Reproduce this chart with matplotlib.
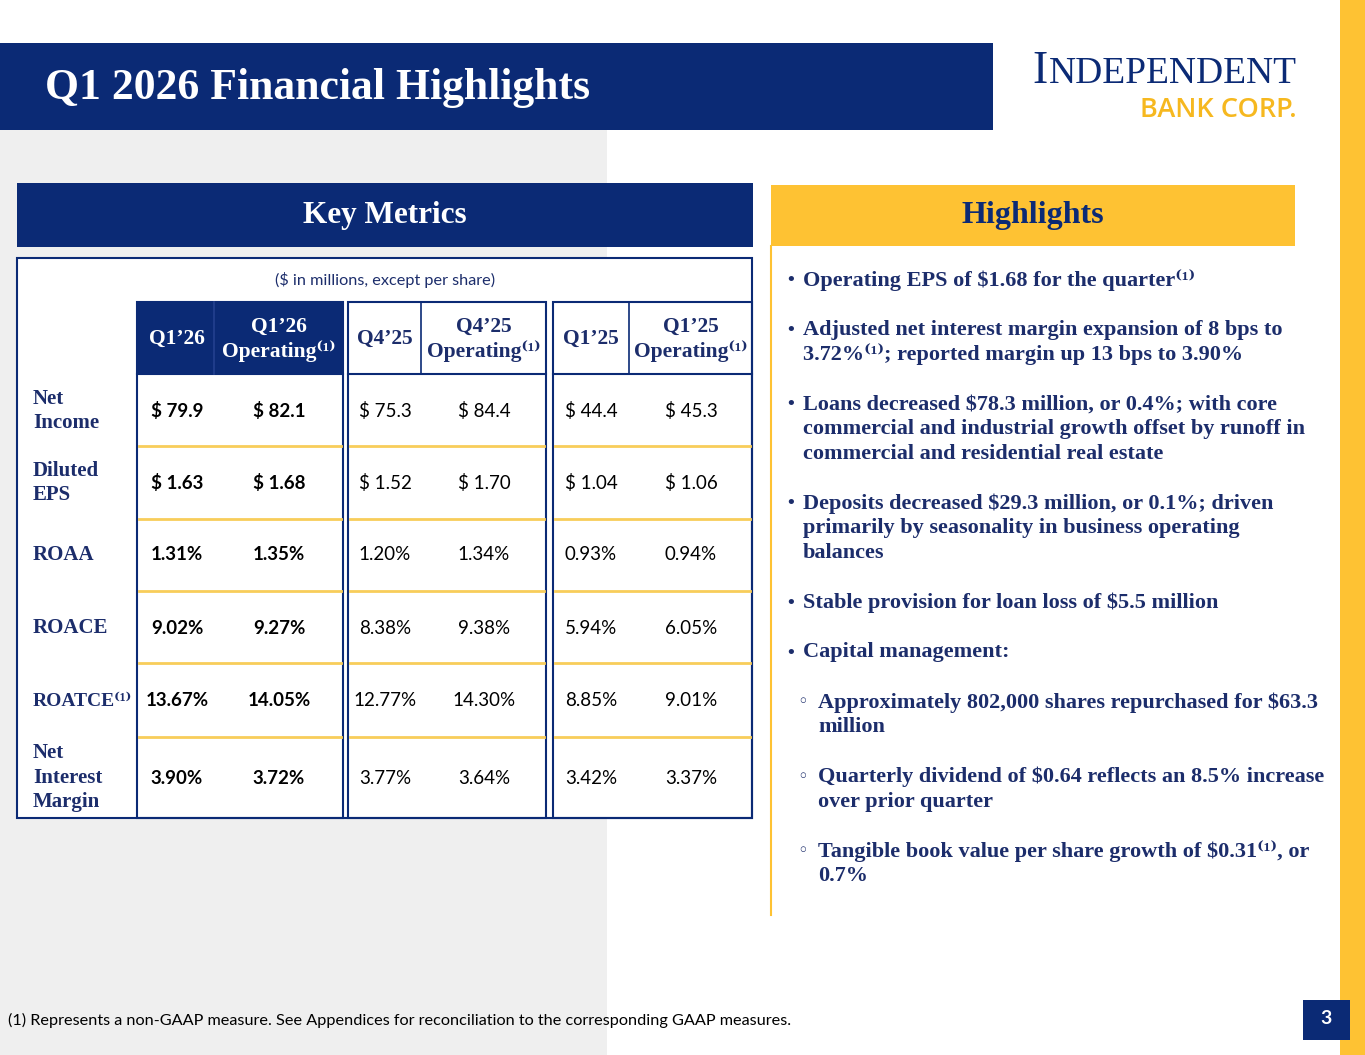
import matplotlib
matplotlib.use("Agg")
import matplotlib.pyplot as plt
from matplotlib.patches import Rectangle

# Data
title = "Q1 2026 Financial Highlights"
units_note = "($ in millions, except per share)"
col_labels = ["Q1’26", "Q1’26\nOperating⁽¹⁾", "Q4’25", "Q4’25\nOperating⁽¹⁾", "Q1’25", "Q1’25\nOperating⁽¹⁾"]
row_labels = ["Net\nIncome", "Diluted\nEPS", "ROAA", "ROACE", "ROATCE⁽¹⁾", "Net\nInterest\nMargin"]
net_income = ["$ 79.9", "$ 82.1", "$ 75.3", "$ 84.4", "$ 44.4", "$ 45.3"]
diluted_eps = ["$ 1.63", "$ 1.68", "$ 1.52", "$ 1.70", "$ 1.04", "$ 1.06"]
roaa = ["1.31%", "1.35%", "1.20%", "1.34%", "0.93%", "0.94%"]
roace = ["9.02%", "9.27%", "8.38%", "9.38%", "5.94%", "6.05%"]
roatce = ["13.67%", "14.05%", "12.77%", "14.30%", "8.85%", "9.01%"]
nim = ["3.90%", "3.72%", "3.77%", "3.64%", "3.42%", "3.37%"]
table_rows = [net_income, diluted_eps, roaa, roace, roatce, nim]

bullets = [
    (0, "Operating EPS of $1.68 for the quarter⁽¹⁾"),
    (0, "Adjusted net interest margin expansion of 8 bps to\n3.72%⁽¹⁾; reported margin up 13 bps to 3.90%"),
    (0, "Loans decreased $78.3 million, or 0.4%; with core\ncommercial and industrial growth offset by runoff in\ncommercial and residential real estate"),
    (0, "Deposits decreased $29.3 million, or 0.1%; driven\nprimarily by seasonality in business operating\nbalances"),
    (0, "Stable provision for loan loss of $5.5 million"),
    (0, "Capital management:"),
    (1, "Approximately 802,000 shares repurchased for $63.3\nmillion"),
    (1, "Quarterly dividend of $0.64 reflects an 8.5% increase\nover prior quarter"),
    (1, "Tangible book value per share growth of $0.31⁽¹⁾, or\n0.7%"),
]
footnote = "(1) Represents a non-GAAP measure. See Appendices for reconciliation to the corresponding GAAP measures."
page_no = "3"

NAVY = "#0b2a75"
TEXT_NAVY = "#1c2d6b"
GOLD = "#fec233"
LINE_GOLD = "#f8cd5a"
GRAY = "#efefef"
SERIF = ["Liberation Serif", "DejaVu Serif"]
SANS = ["Lato", "DejaVu Sans"]

fig = plt.figure(figsize=(13.65, 10.55), dpi=100)
ax = fig.add_axes([0, 0, 1, 1])
ax.set_xlim(0, 1365)
ax.set_ylim(1055, 0)
ax.axis("off")


def rect(x0, y0, x1, y1, **kw):
    ax.add_patch(Rectangle((x0, y0), x1 - x0, y1 - y0, **kw))


def lines(x, y, txt, step, **kw):
    # draw a multi-line label one line at a time, centred on y
    parts = txt.split("\n")
    y0 = y - step * (len(parts) - 1) / 2
    for i, p in enumerate(parts):
        ax.text(x, y0 + i * step, p, va="center", **kw)


# background panels
rect(0, 130, 607, 1055, color=GRAY, lw=0)
rect(1340, 0, 1365, 1055, color=GOLD, lw=0)

# title bar
rect(0, 43, 993, 130, color=NAVY, lw=0)
ax.text(45, 88, title, color="white", fontsize=31.5, fontweight="bold",
        family=SERIF, va="center", ha="left")

# logo
ax.text(1297, 83, "NDEPENDENT", color=NAVY, fontsize=27, family=SERIF,
        va="baseline", ha="right")
ax.text(1048, 83, "I", color=NAVY, fontsize=33, family=SERIF,
        va="baseline", ha="right")
ax.text(1297, 117, "BANK CORP.", color="#f6b81f", fontsize=19.5,
        family=["Open Sans", "DejaVu Sans"], fontweight="semibold",
        va="baseline", ha="right")

# section headers
rect(17, 183, 753, 247, color=NAVY, lw=0)
ax.text(385, 216, "Key Metrics", color="white", fontsize=22.5, fontweight="bold",
        family=SERIF, va="center", ha="center")
rect(771, 185, 1295, 246, color=GOLD, lw=0)
ax.text(1033, 216, "Highlights", color=NAVY, fontsize=23, fontweight="bold",
        family=SERIF, va="center", ha="center")
ax.plot([771, 771], [246, 915], color=GOLD, lw=1.5)

# table frame
rect(17, 258, 752, 818, facecolor="white", edgecolor=NAVY, lw=1.5)
ax.text(385, 280, units_note, color=TEXT_NAVY, fontsize=11.7, family=SANS,
        va="center", ha="center")

groups = [(137, 343), (348, 546), (553, 752)]
col_x = [177, 279, 385, 484, 591, 691]
splits = [214, 421, 629]
head_top, head_bot = 302, 374
row_y = [411, 483, 555, 628, 701, 778]
sep_y = [446, 519, 591, 663, 737]

rect(groups[0][0], head_top, groups[0][1], head_bot, color=NAVY, lw=0)
for gi, (x0, x1) in enumerate(groups):
    rect(x0, head_top, x1, 818, facecolor="none", edgecolor=NAVY, lw=1.5)
    ax.plot([x0, x1], [head_bot, head_bot], color=NAVY, lw=1.5)
    ax.plot([splits[gi], splits[gi]], [head_top, head_bot],
            color="#24408f" if gi == 0 else NAVY, lw=1.2)
    for y in sep_y:
        ax.plot([x0 + 2, x1 - 2], [y, y], color=LINE_GOLD, lw=2)

for ci, lab in enumerate(col_labels):
    lines(col_x[ci], 339, lab, 24, color="white" if ci < 2 else TEXT_NAVY,
          fontsize=15.5, fontweight="bold", family=SERIF, ha="center")

for ri, lab in enumerate(row_labels):
    size = 14 if lab.startswith("ROATCE") else 15
    lines(33, row_y[ri], lab, 24.5, color=TEXT_NAVY, fontsize=size,
          fontweight="bold", family=SERIF, ha="left")
    for ci, val in enumerate(table_rows[ri]):
        ax.text(col_x[ci], row_y[ri], val, color="black", fontsize=13.5,
                fontweight="bold" if ci < 2 else "normal", family=SANS,
                va="center", ha="center")

# highlights bullets
line_h = 24.6
gap = 25.3
y = 280
for level, txt in bullets:
    bx = 785 if level == 0 else 797
    tx = 803 if level == 0 else 818
    ax.text(bx, y, "•" if level == 0 else "◦", color=TEXT_NAVY, fontsize=13,
            family=["DejaVu Sans"], va="center", ha="left")
    parts = txt.split("\n")
    for i, p in enumerate(parts):
        ax.text(tx, y + i * line_h, p, color=TEXT_NAVY, fontsize=16,
                fontweight="bold", family=SERIF, va="center", ha="left")
    y += len(parts) * line_h + gap

# footnote and page number
ax.text(8, 1020, footnote, color="black", fontsize=11.7, family=SANS,
        va="center", ha="left")
rect(1303, 1000, 1350, 1040, color=NAVY, lw=0)
ax.text(1326, 1019, page_no, color="white", fontsize=14, fontweight="bold",
        family=SANS, va="center", ha="center")

fig.savefig("out.png", dpi=100)
